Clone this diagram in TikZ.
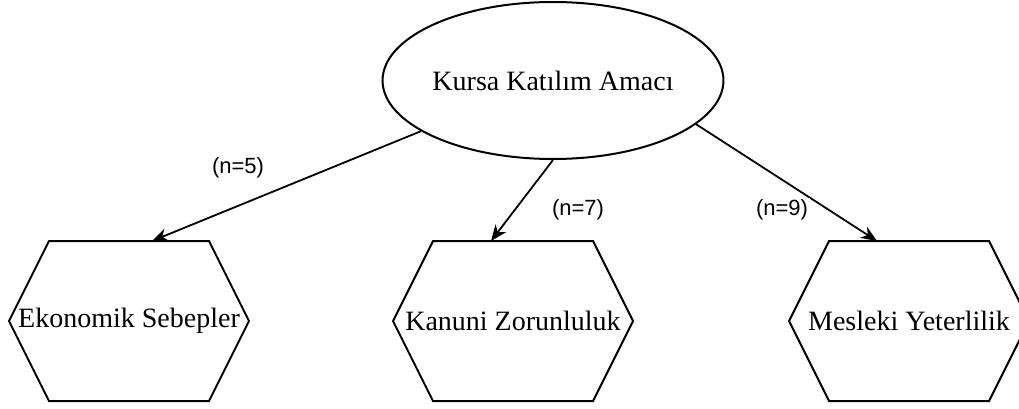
\documentclass[tikz,border=0pt]{standalone}
\usepackage{fontspec}
\setmainfont{Liberation Serif}
\newfontfamily\labelfont{Liberation Sans}
\usetikzlibrary{arrows.meta,shapes.geometric}
\tikzset{
  rootbox/.style={ellipse,draw,line width=2pt,minimum width=318pt,minimum height=157pt,inner sep=0pt,font=\fontsize{28}{32}\selectfont},
  hextext/.style={inner sep=0pt,font=\fontsize{28}{32}\selectfont},
  hexbox/.style={draw,line width=2pt,line join=miter},
  conn/.style={line width=1.8pt,-{Stealth[length=16pt,width=13pt,inset=5pt]}},
  lbl/.style={fill=white,inner sep=2pt,font=\labelfont\fontsize{22}{26}\selectfont}
}
\begin{document}
\begin{tikzpicture}[x=1pt,y=1pt]
\clip (0,0) rectangle (1019,408);
\fill[white] (0,0) rectangle (1019,408);
\node[rootbox] (root) at (553,327.5) {Kursa Katılım Amacı};
\node[hextext] (ek) at (129,87) {Ekonomik Sebepler};
\node[hextext] (kz) at (513,87) {Kanuni Zorunluluk};
\node[hextext] (my) at (909,87) {Mesleki Yeterlilik};
\foreach \h in {ek,kz,my}{
  \draw[hexbox] (\h.center) ++(-120,0) -- ++(40,80) -- ++(160,0) -- ++(40,-80) -- ++(-40,-80) -- ++(-160,0) -- cycle;
}
\coordinate (ekt) at (152,167);
\coordinate (kzt) at (491,167);
\coordinate (myt) at (877,167);
\draw[conn] (root.201.4) -- (ekt);
\draw[conn] (root.270) -- (kzt);
\draw[conn] (root.343.8) -- (myt);
\node[lbl] (l5) at (238,240) {(n=5)};
\node[lbl] (l7) at (578,198) {(n=7)};
\node[lbl] (l9) at (782,198) {(n=9)};
\end{tikzpicture}
\end{document}
